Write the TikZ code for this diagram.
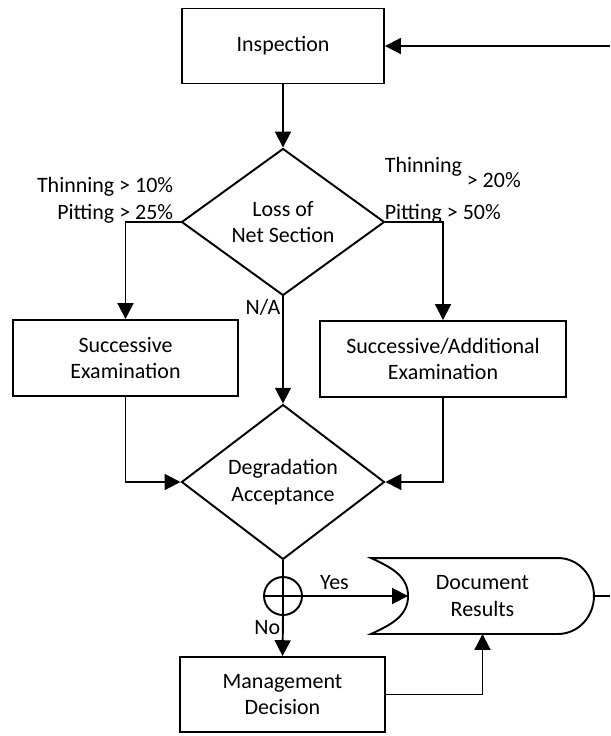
\documentclass[tikz,border=0pt]{standalone}
\usepackage{fontspec}
\setmainfont{Carlito}
\usepackage{tikz}
\usetikzlibrary{shapes.geometric,arrows.meta,calc}

\begin{document}
\begin{tikzpicture}[line width=1.1pt,
        box/.style={draw,rectangle,align=center,inner sep=0pt},
        decision/.style={draw,diamond,align=center,inner sep=0pt,minimum width=4.06cm,minimum height=2.94cm},
        arr/.style={-{Triangle[length=9pt,width=9pt]}},
        every node/.style={font=\fontsize{12.5}{15}\selectfont}]
        \useasboundingbox (0,0) rectangle (12.2,-14.72);

        \node[box,minimum width=4.04cm,minimum height=1.5cm] (insp) at (5.66,-0.92) {Inspection};
        \node[decision] (loss) at (5.66,-4.44) {Loss of\\Net Section};
        \node[box,minimum width=4.5cm,minimum height=1.52cm] (succ) at (2.51,-7.16) {Successive\\Examination};
        \node[box,minimum width=4.92cm,minimum height=1.52cm] (addl) at (8.86,-7.18) {Successive/Additional\\Examination};
        \node[decision] (degr) at (5.66,-9.64) {Degradation\\Acceptance};
        \node[draw,circle,minimum size=0.76cm,inner sep=0pt] (gate) at (5.66,-11.92) {};
        \node[box,minimum width=4.1cm,minimum height=1.5cm] (mgmt) at (5.65,-13.89) {Management\\Decision};
        \node[align=center,minimum width=4.42cm,minimum height=1.48cm,inner sep=0pt] (docres) at (9.65,-11.92) {Document\\Results};

        % criteria
        \node[anchor=east] (thinL) at (3.6,-3.74) {Thinning > 10\%};
        \node[anchor=east] (pitL) at (3.6,-4.28) {Pitting > 25\%};
        \node[anchor=west] (thinR) at (7.56,-3.34) {Thinning};
        \node[anchor=west] (pctR) at (9.2,-3.6) {> 20\%};
        \node[anchor=west] (pitR) at (7.56,-4.28) {Pitting  > 50\%};

        % document shape
        \coordinate (dent) at ($(docres.west)+(0.74,0)$);
        \coordinate (bend) at ($(docres.north east)+(-0.72,0)$);
        \draw (docres.north west) to[out=-25,in=90] (dent) to[out=-90,in=25] (docres.south west)
              -- ($(docres.south east)+(-0.72,0)$) to[out=0,in=-90] (docres.east)
              to[out=90,in=0] (bend) -- cycle;

        \draw[arr] (insp) -- (loss);
        \draw[arr] (loss.west) -| (succ.north);
        \draw[arr] (loss.east) -| (addl.north);
        \draw[arr] (loss.south) -- node[pos=0.1,left,inner sep=1pt] {N/A} (degr.north);
        \draw[arr] (succ.south) |- (degr.west);
        \draw[arr] (addl.south) |- (degr.east);

        \draw (degr.south) -- (gate.north);
        \draw (gate.north) -- (gate.south) (gate.west) -- (gate.east);
        \draw[arr] (gate.south) -- node[pos=0.3,left,inner sep=1pt] {No} (mgmt.north);
        \draw[arr] (gate.east) -- node[above,pos=0.3] {Yes} (dent);
        \draw[arr] (mgmt.east) -| (docres.south);

        \coordinate (outR) at (12.2,-11.92);
        \coordinate (inR) at (12.2,-0.92);
        \draw (docres.east) -- (outR);
        \draw[arr] (inR) -- (insp.east);
\end{tikzpicture}
\end{document}
